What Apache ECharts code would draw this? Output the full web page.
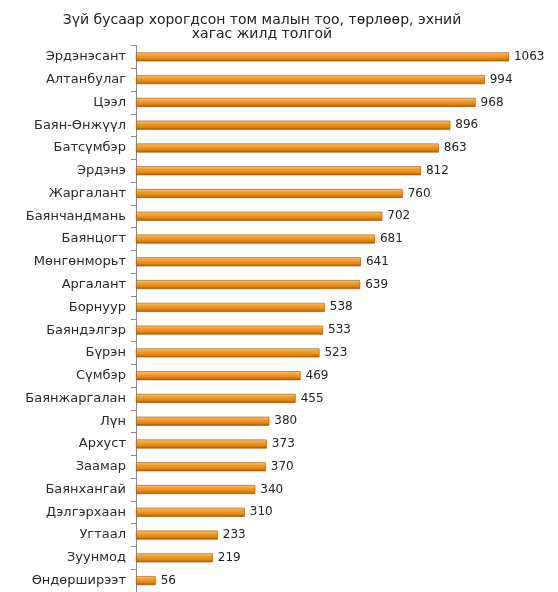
<!DOCTYPE html>
<html><head><meta charset="utf-8">
<script src="https://cdn.jsdelivr.net/npm/echarts@6/dist/echarts.min.js"></script>
<style>html,body{margin:0;padding:0;background:#fff}#c{width:558px;height:592px}</style>
</head><body><div id="c"></div>
<script>
const titleText = "Зүй бусаар хорогдсон том малын тоо, төрлөөр, эхний\nхагас жилд толгой";
const categories = ["Эрдэнэсант","Алтанбулаг","Цээл","Баян-Өнжүүл","Батсүмбэр","Эрдэнэ","Жаргалант","Баянчандмань","Баянцогт","Мөнгөнморьт","Аргалант","Борнуур","Баяндэлгэр","Бүрэн","Сүмбэр","Баянжаргалан","Лүн","Архуст","Заамар","Баянхангай","Дэлгэрхаан","Угтаал","Зуунмод","Өндөрширээт"];
const values = [1063,994,968,896,863,812,760,702,681,641,639,538,533,523,469,455,380,373,370,340,310,233,219,56];

const chart = echarts.init(document.getElementById('c'));
chart.setOption({
  animation: false,
  title: {
    text: titleText, left: 257, textAlign: 'center', top: 8,
    textStyle: {fontFamily: 'DejaVu Sans', fontSize: 14, fontWeight: 'normal', color: '#222', lineHeight: 14}
  },
  grid: {left: 136, top: 45.5, height: 554, right: 1, containLabel: false},
  xAxis: {type: 'value', min: 0, max: 1200, show: false},
  yAxis: {
    type: 'category', data: categories, inverse: true,
    axisLine: {lineStyle: {color: '#888', width: 1}},
    axisTick: {show: true, length: 5, lineStyle: {color: '#888'}},
    axisLabel: {fontFamily: 'DejaVu Sans', fontSize: 13, color: '#2a2a2a', margin: 10}
  },
  series: [{
    type: 'bar', data: values, barWidth: 9,
    itemStyle: {
      color: new echarts.graphic.LinearGradient(0,0,0,1,[
        {offset:0, color:'#fcc97a'},
        {offset:0.3, color:'#f5a030'},
        {offset:0.7, color:'#e4850f'},
        {offset:1, color:'#a85a08'}
      ]),
      borderColor: '#9a5206', borderWidth: 0.6
    },
    label: {show: true, position: 'right', distance: 5,
      fontFamily: 'DejaVu Sans', fontSize: 12, color: '#222'}
  }]
});
</script></body></html>
